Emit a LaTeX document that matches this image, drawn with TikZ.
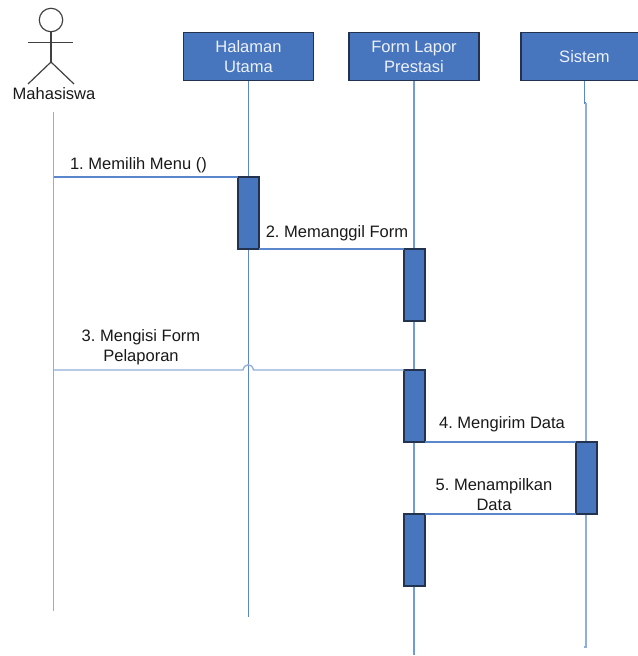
\documentclass[tikz,border=0pt]{standalone}
\usepackage{fontspec}
\setmainfont{Liberation Sans}
\usepackage{tikz}

\definecolor{barblue}{HTML}{4775BE}
\definecolor{barline}{HTML}{22324F}
\definecolor{lineblue}{HTML}{5A86CC}
\definecolor{midblue}{HTML}{709ADA}
\definecolor{paleblue}{HTML}{8FAEDC}
\definecolor{actorgray}{HTML}{404040}

\tikzset{
  lifebox/.style={rectangle, draw=barline, line width=0.8pt, fill=barblue, text=white!90!barblue,
    minimum width=97.5pt, minimum height=36.4pt, inner sep=0pt, outer sep=0pt, align=center},
  bar/.style={rectangle, draw=barline, line width=0.8pt, fill=barblue,
    minimum width=15.75pt, minimum height=54pt, inner sep=0pt, outer sep=0pt},
  lbl/.style={inner sep=0pt, align=center, text=black!90},
  life/.style={draw=lineblue, line width=0.8pt},
  formlife/.style={draw=midblue, line width=0.8pt},
  palelife/.style={draw=paleblue, line width=1pt},
  stick/.style={draw=actorgray, line width=0.9pt}
}

\begin{document}
\frenchspacing
\begin{tikzpicture}[x=0.75pt, y=-0.75pt, font=\fontsize{12.4}{15}\selectfont]
        \clip (0,0) rectangle (638,656);

        % Actor
        \node[circle, stick, minimum size=17.6pt, inner sep=0pt] (head) at (51,20) {};
        \coordinate (hip) at (51,62);
        \coordinate (armL) at (28,42.5);
        \coordinate (armR) at (73,42.5);
        \coordinate (legL) at (28,84);
        \coordinate (legR) at (74,84);
        \draw[stick] (head) -- (hip);
        \draw[stick] (armL) -- (armR);
        \draw[stick] (legL) -- (hip) -- (legR);
        \node[lbl] (mhs) at (54,94) {Mahasiswa};

        % Object boxes
        \node[lifebox] (hal) at (248.5,56.5) {Halaman\\Utama};
        \node[lifebox] (form) at (414,56.5) {Form Lapor\\Prestasi};
        \node[lifebox, minimum width=95.25pt] (sis) at (584.5,56.5) {Sistem};

        % Lifeline ends
        \coordinate (mhsTop) at (53.5,112);
        \coordinate (mhsEnd) at (53.5,611);
        \coordinate (halEnd) at (248.5,617);
        \coordinate (formEnd) at (414,655);
        \coordinate (sisA) at (584.5,103);
        \coordinate (sisB) at (586,103);
        \coordinate (sisC) at (586,647);
        \coordinate (sisEnd) at (584,647);

        % Lifelines
        \draw[palelife] (mhsTop) -- (mhsEnd);
        \draw[life] (hal) -- (halEnd);
        \draw[formlife] (form) -- (formEnd);
        \draw[life] (sis) -- (sisA) -- (sisB);
        \draw[palelife] (sisB) -- (sisC) -- (sisEnd);

        % Message start points on the first lifeline
        \coordinate (msgA) at (53.5,177);
        \coordinate (msgC) at (53.5,370);
        \coordinate (jumpL) at (243,370);
        \coordinate (jumpR) at (253.5,370);
        \coordinate (jumpCa) at (244.5,363);
        \coordinate (jumpCb) at (252,363);

        % Activation bars
        \node[bar] (barA) at (248.5,213) {};
        \node[bar] (barB) at (414.5,285) {};
        \node[bar] (barC) at (414.5,406) {};
        \node[bar] (barD) at (586.5,478) {};
        \node[bar] (barE) at (414.5,550) {};

        % Messages
        \draw[life] (msgA) -- (barA.north west);
        \draw[life] (barA.south east) -- (barB.north west);
        \draw[palelife] (msgC) -- (jumpL) .. controls (jumpCa) and (jumpCb) .. (jumpR) -- (barC.north west);
        \draw[life] (barC.south east) -- (barD.north west);
        \draw[life] (barD.south west) -- (barE.north east);

        % Message labels
        \node[lbl] (lblA) at (138.5,165) {1. Memilih Menu ()};
        \node[lbl] (lblB) at (337,233) {2. Memanggil Form};
        \node[lbl] (lblC) at (141,347) {3. Mengisi Form\\Pelaporan};
        \node[lbl] (lblD) at (502,424) {4. Mengirim Data};
        \node[lbl] (lblE) at (494,495) {5. Menampilkan\\Data};
    \end{tikzpicture}
\end{document}
